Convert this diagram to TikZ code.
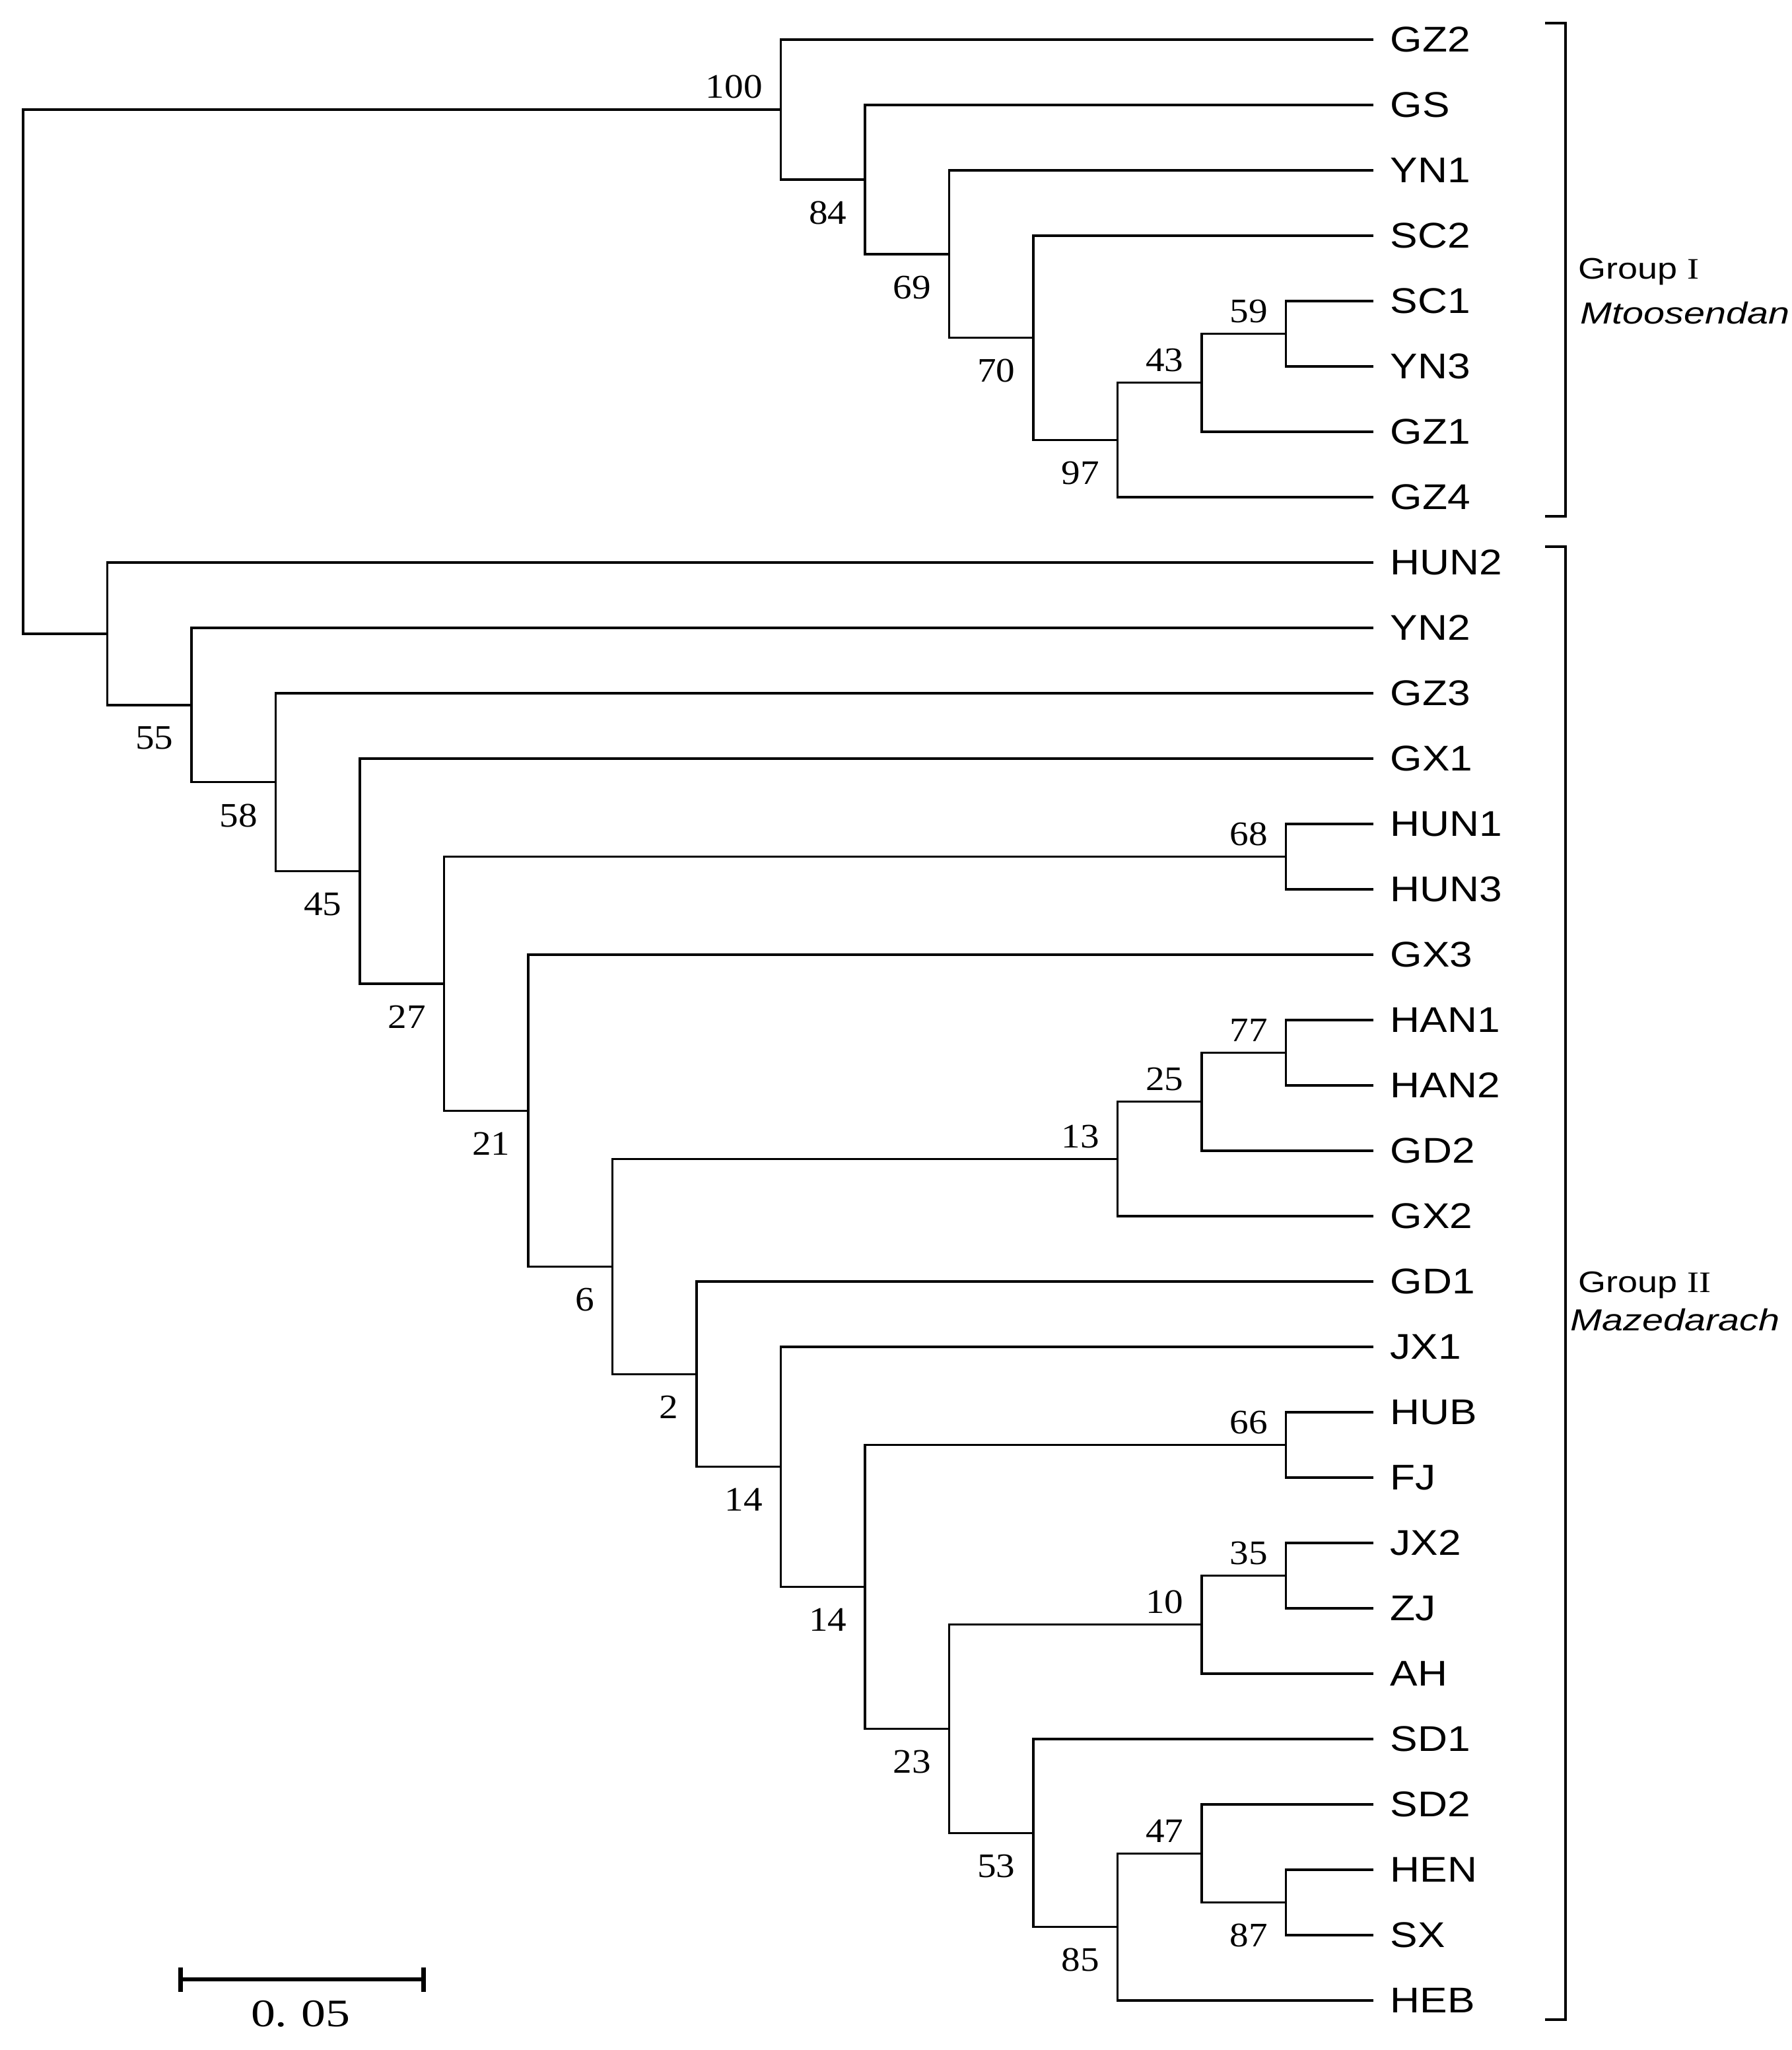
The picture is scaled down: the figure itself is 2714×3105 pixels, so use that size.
\documentclass[tikz,border=0pt]{standalone}
\usepackage{fontspec}
\usetikzlibrary{arrows.meta}
\newfontfamily\leaffont[FakeStretch=1.15]{Liberation Sans}
\newfontfamily\bsfont[FakeStretch=1.1]{Liberation Serif}
\newfontfamily\barfont[FakeStretch=1.25]{Liberation Serif}
\newfontfamily\grpfont[FakeStretch=1.2]{Liberation Sans}
\newfontfamily\grpnum[FakeStretch=1.2]{Liberation Serif}
\newfontfamily\spfont[FakeStretch=1.25]{Liberation Sans}

\begin{document}
\begin{tikzpicture}[x=0.1mm, y=-0.1mm,
        branch/.style={line width=0.33mm, line cap=rect},
        leaf/.style={anchor=west, inner xsep=2.7mm, inner ysep=0pt, font=\leaffont\fontsize{15.4}{18}\selectfont},
        bsup/.style={anchor=south east, inner sep=0pt, xshift=-2.7mm, yshift=1.6mm, font=\bsfont\fontsize{14.8}{17}\selectfont},
        bsdown/.style={anchor=north east, inner sep=0pt, xshift=-2.7mm, yshift=-3.2mm, font=\bsfont\fontsize{14.8}{17}\selectfont},
        bracket/.style={line width=0.4mm},
        grp/.style={anchor=base west, inner sep=0pt, font=\grpfont\fontsize{12.8}{15}\selectfont}]
    \useasboundingbox (0,0) rectangle (2714,3105);

    \foreach \lab [count=\i from 0] in {GZ2,GS,YN1,SC2,SC1,YN3,GZ1,GZ4,HUN2,YN2,GZ3,GX1,HUN1,HUN3,GX3,HAN1,HAN2,GD2,GX2,GD1,JX1,HUB,FJ,JX2,ZJ,AH,SD1,SD2,HEN,SX,HEB}
        \node[leaf] (\lab) at (2078,{60+99*\i}) {\lab};

    \foreach \n/\k/\p in {b59/15/4.5, b43/14/5.25, b97/13/6.125, b70/12/4.5625, b69/11/3.28125, b84/10/2.140625, b100/9/1.0703125,
            b68/15/12.5, b77/15/15.5, b25/14/16.25, b13/13/17.125, b66/15/21.5, b35/15/23.5, b10/14/24.25,
            b87/15/28.5, b47/14/27.75, b85/13/28.875, b53/12/27.4375, b23/11/25.84375, b14b/10/23.671875,
            b14a/9/21.8359375, b2/8/20.41796875, b6/7/18.771484375, b21/6/16.3857421875, b27/5/14.44287109375,
            b45/4/12.721435546875, b58/3/11.3607177734375, b55/2/10.18035888671875, g2/1/9.090179443359375,
            root/0/5.080239868164062}
        \coordinate (\n) at ({35+127.5*\k},{60+99*\p});

    \foreach \na/\nb in {b59/SC1.west, b59/YN3.west, b43/b59, b43/GZ1.west, b97/b43, b97/GZ4.west,
            b70/SC2.west, b70/b97, b69/YN1.west, b69/b70, b84/GS.west, b84/b69, b100/GZ2.west, b100/b84,
            b68/HUN1.west, b68/HUN3.west, b77/HAN1.west, b77/HAN2.west, b25/b77, b25/GD2.west, b13/b25, b13/GX2.west,
            b66/HUB.west, b66/FJ.west, b35/JX2.west, b35/ZJ.west, b10/b35, b10/AH.west,
            b87/HEN.west, b87/SX.west, b47/SD2.west, b47/b87, b85/b47, b85/HEB.west, b53/SD1.west, b53/b85,
            b23/b10, b23/b53, b14b/b66, b14b/b23, b14a/JX1.west, b14a/b14b, b2/GD1.west, b2/b14a,
            b6/b13, b6/b2, b21/GX3.west, b21/b6, b27/b68, b27/b21, b45/GX1.west, b45/b27,
            b58/GZ3.west, b58/b45, b55/YN2.west, b55/b58, g2/HUN2.west, g2/b55, root/b100, root/g2}
        \draw[branch] (\na) |- (\nb);

    \foreach \n/\v in {b100/100, b43/43, b59/59, b68/68, b77/77, b25/25, b13/13, b66/66, b35/35, b10/10, b47/47}
        \node[bsup] (l\n) at (\n) {\v};
    \foreach \n/\v in {b84/84, b69/69, b70/70, b97/97, b55/55, b58/58, b45/45, b27/27, b21/21, b6/6, b2/2,
            b14a/14, b14b/14, b23/23, b53/53, b85/85, b87/87}
        \node[bsdown] (l\n) at (\n) {\v};

    \coordinate (gItop) at (2340,35);
    \coordinate (gIbot) at (2340,782);
    \coordinate (gIItop) at (2340,828);
    \coordinate (gIIbot) at (2340,3059);
    \draw[bracket] (gItop) -- ++(31,0) |- (gIbot);
    \draw[bracket] (gIItop) -- ++(31,0) |- (gIIbot);
    \node[grp] (gIname) at (2390,422) {Group {\grpnum I}};
    \node[grp, font=\spfont\itshape\fontsize{13.1}{15}\selectfont] (gIsp) at (2393,490) {Mtoosendan};
    \node[grp] (gIIname) at (2390,1957) {Group {\grpnum II}};
    \node[grp, font=\spfont\itshape\fontsize{13.1}{15}\selectfont] (gIIsp) at (2378,2015) {Mazedarach};

    \coordinate (sbl) at (270,2998);
    \coordinate (sbr) at (645,2998);
    \draw[line width=0.67mm, {Bar[width=3.7mm]}-{Bar[width=3.7mm]}] (sbl) -- (sbr);
    \node[inner sep=0pt, font=\barfont\fontsize{16.8}{19}\selectfont] (sbtxt) at (455,3050) {0.\hspace{0.35em}05};
\end{tikzpicture}
\end{document}
